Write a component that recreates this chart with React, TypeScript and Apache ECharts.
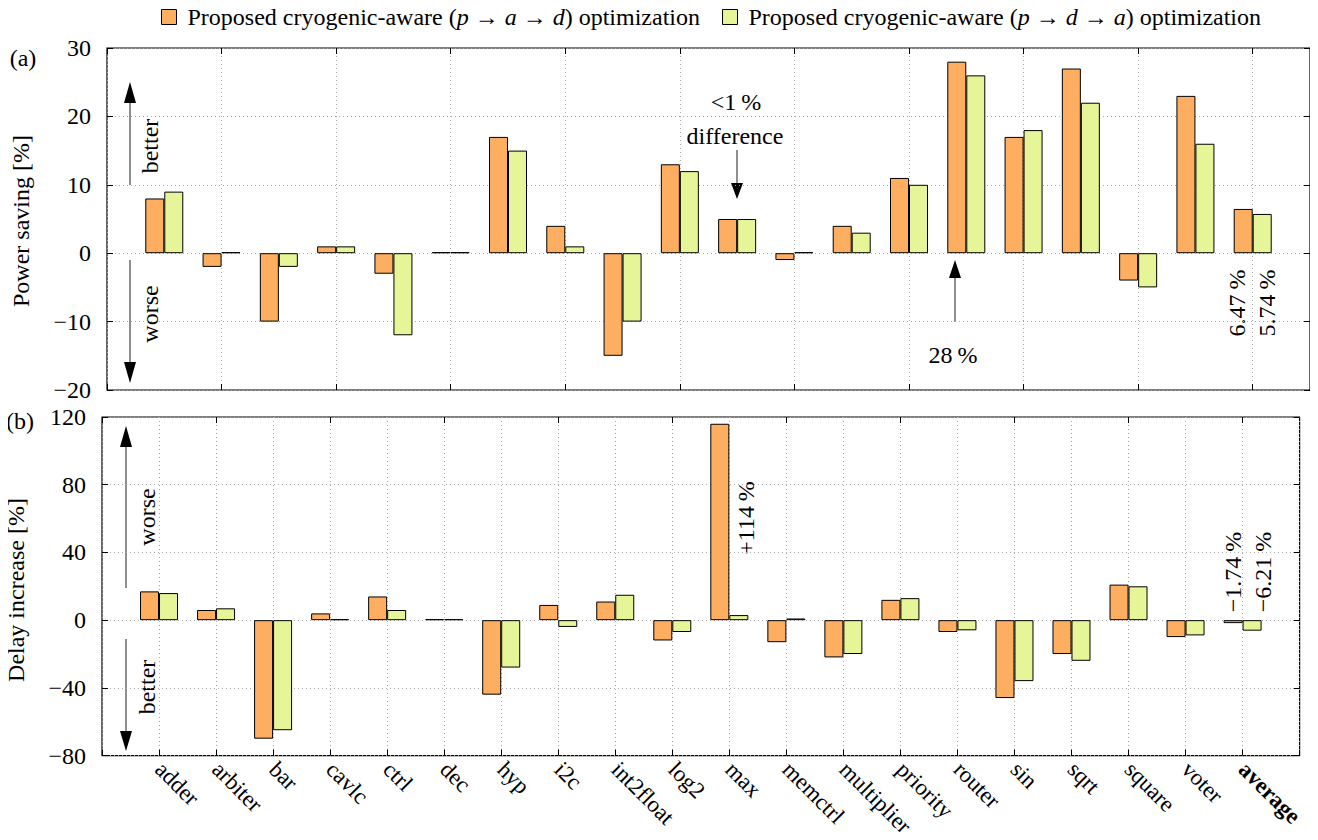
import React, { useEffect, useRef } from "react";
import * as echarts from "echarts";

const categories = ["adder", "arbiter", "bar", "cavlc", "ctrl", "dec", "hyp", "i2c", "int2float", "log2", "max", "memctrl", "multiplier", "priority", "router", "sin", "sqrt", "square", "voter", "average"];
const powerPAD = [8, -2, -10, 1, -3, 0, 17, 4, -15, 13, 5, -1, 4, 11, 28, 17, 27, -4, 23, 6.47];
const powerPDA = [9, 0, -2, 1, -12, 0, 15, 1, -10, 12, 5, 0, 3, 10, 26, 18, 22, -5, 16, 5.74];
const delayPAD = [17, 6, -70, 4, 14, 0, -44, 9, 11, -12, 116, -13, -22, 12, -7, -46, -20, 21, -10, -1.74];
const delayPDA = [16, 7, -65, 0, 6, 0, -28, -4, 15, -7, 3, 1, -20, 13, -6, -36, -24, 20, -9, -6.21];
const powerTicks = { min: -20, max: 30, interval: 10 };
const delayTicks = { min: -80, max: 120, interval: 40 };
const seriesNames = ["PAD", "PDA"];

const FONT = '"Liberation Serif", "Times New Roman", serif';
const FS = 24;
const ORANGE = "#FDAE61";
const GREEN = "#E6F598";

function fmtNum(v: number) {
  return String(v).replace("-", "\u2212");
}

export default function App() {
  const ref = useRef<HTMLDivElement>(null);
  useEffect(() => {
    if (!ref.current) return;
    const chart = echarts.init(ref.current, undefined, { renderer: "svg" });
    const cats = [" ", ...categories, "  "];
    const pad = (a: number[]) => [null, ...a, null];
    const gridLine = { show: true, lineStyle: { color: "#aaa", type: [1, 3] as any, width: 1 } };
    const xBase = (gridIndex: number, position: string, labels: boolean, split: boolean) => ({
      type: "category",
      gridIndex,
      position,
      data: cats,
      boundaryGap: false,
      axisLine: { show: false, onZero: false },
      axisTick: { show: true, inside: true, length: 6, lineStyle: { color: "#000" } },
      splitLine: split ? gridLine : { show: false },
      axisLabel: labels
        ? {
            show: true,
            rotate: -45,
            margin: 10,
            fontFamily: FONT,
            fontSize: FS - 1,
            color: "#000",
            interval: 0,
            formatter: (v: string) => (v === "average" ? `{b|${v}}` : v),
            rich: { b: { fontWeight: "bold", fontFamily: FONT, fontSize: FS - 1, color: "#000" } },
          }
        : { show: false },
    });
    const yBase = (gridIndex: number, position: string, t: any, labels: boolean) => ({
      type: "value",
      gridIndex,
      position,
      min: t.min,
      max: t.max,
      interval: t.interval,
      axisLine: { show: false },
      axisTick: { show: true, inside: true, length: 6, lineStyle: { color: "#000" } },
      splitLine: labels ? gridLine : { show: false },
      axisLabel: labels
        ? { show: true, margin: 16, fontFamily: FONT, fontSize: FS, color: "#000", formatter: (v: number) => fmtNum(v) }
        : { show: false },
    });
    const bar = (name: string, data: number[], color: string, axis: number) => ({
      type: "bar",
      name,
      data: pad(data),
      xAxisIndex: axis,
      yAxisIndex: axis,
      barWidth: 19,
      barGap: "0%",
      barMinHeight: 1,
      itemStyle: { color, borderColor: "#000", borderWidth: 1 },
    });
    const txt = (text: string, x: number, y: number, rot = 0, extra: any = {}) => ({
      type: "text",
      x,
      y,
      rotation: rot,
      style: {
        text,
        font: `${FS}px ${FONT}`,
        fill: "#000",
        align: "center",
        verticalAlign: "middle",
        textAlign: "center",
        textVerticalAlign: "middle",
        ...extra,
      },
    });
    const arrow = (x: number, y1: number, yBaseHead: number, yTip: number) => [
      { type: "line", shape: { x1: x, y1, x2: x, y2: yBaseHead }, style: { stroke: "#444", lineWidth: 1.2 } },
      { type: "polygon", shape: { points: [[x - 6, yBaseHead], [x + 6, yBaseHead], [x, yTip]] }, style: { fill: "#000" } },
    ];
    const legendLabel = (order: string) => `Proposed cryogenic-aware (${order}) optimization`;
    chart.setOption({
      animation: false,
      textStyle: { fontFamily: FONT },
      legend: {
        top: 0,
        left: 156,
        itemWidth: 15,
        itemHeight: 15,
        itemGap: 22,
        icon: "rect",
        data: seriesNames,
        itemStyle: { borderColor: "#000", borderWidth: 1 },
        formatter: (n: string) =>
          n === "PAD" ? legendLabel("{i|p} \u2192 {i|a} \u2192 {i|d}") : legendLabel("{i|p} \u2192 {i|d} \u2192 {i|a}"),
        textStyle: {
          fontFamily: FONT,
          fontSize: FS,
          color: "#000",
          padding: [0, 0, 0, 6],
          rich: { i: { fontStyle: "italic", fontFamily: FONT, fontSize: FS, color: "#000" } },
        },
      },
      grid: [
        { left: 107, top: 48, width: 1203, height: 342, show: true, borderColor: "#000", borderWidth: 1.2, backgroundColor: "transparent" },
        { left: 102, top: 417, width: 1204, height: 342, show: true, borderColor: "#000", borderWidth: 1.2, backgroundColor: "transparent" },
      ],
      xAxis: [xBase(0, "bottom", false, true), xBase(0, "top", false, false), xBase(1, "bottom", true, true), xBase(1, "top", false, false)],
      yAxis: [yBase(0, "left", powerTicks, true), yBase(0, "right", powerTicks, false), yBase(1, "left", delayTicks, true), yBase(1, "right", delayTicks, false)],
      series: [
        bar("PAD", powerPAD, ORANGE, 0),
        bar("PDA", powerPDA, GREEN, 0),
        bar("PAD", delayPAD, ORANGE, 2),
        bar("PDA", delayPDA, GREEN, 2),
      ],
      graphic: [
        txt("(a)", 23, 58),
        txt("(b)", 20, 421),
        txt("Power saving [%]", 21, 221, Math.PI / 2),
        txt("Delay increase [%]", 16, 590, Math.PI / 2),
        ...arrow(130, 185, 103, 82),
        ...arrow(130, 260, 362, 383),
        txt("better", 150, 146, Math.PI / 2),
        txt("worse", 150, 314, Math.PI / 2),
        txt("<1\u2009%", 736, 102),
        txt("difference", 735, 136),
        ...arrow(737, 150, 183, 199),
        ...arrow(955, 322, 278, 260),
        txt("28\u2009%", 953, 355),
        txt("6.47\u2009%", 1237, 303, Math.PI / 2),
        txt("5.74\u2009%", 1267, 303, Math.PI / 2),
        ...arrow(126, 588, 447, 426),
        ...arrow(126, 639, 731, 751),
        txt("worse", 147, 517, Math.PI / 2),
        txt("better", 147, 687, Math.PI / 2),
        txt("+114\u2009%", 746, 518, Math.PI / 2),
        txt("\u22121.74\u2009%", 1233, 572, Math.PI / 2),
        txt("\u22126.21\u2009%", 1263, 572, Math.PI / 2),
      ],
    });
    return () => chart.dispose();
  }, []);
  return <div ref={ref} style={{ width: 1318, height: 840, margin: -8 }} />;
}
